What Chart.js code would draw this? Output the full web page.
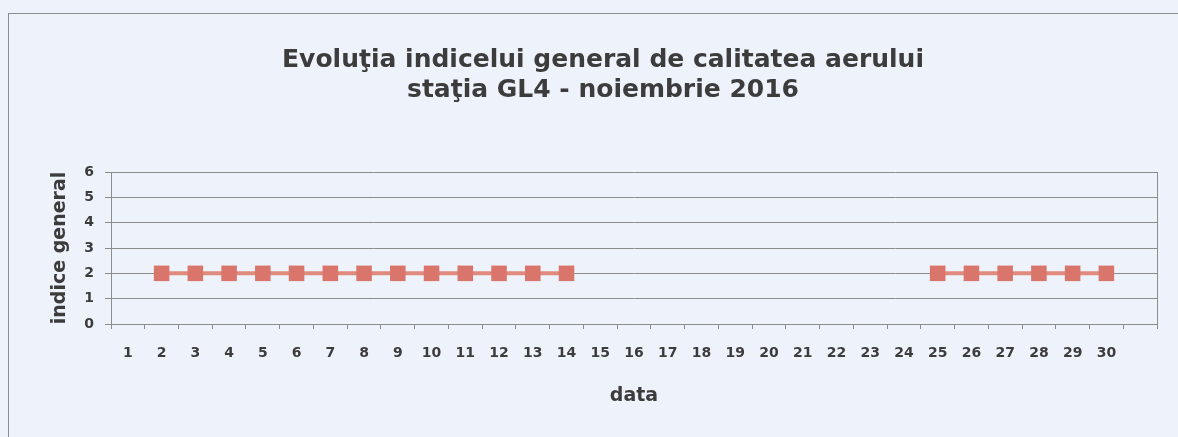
<!DOCTYPE html>
<html>
<head>
<meta charset="utf-8">
<script src="https://cdn.jsdelivr.net/npm/chart.js@4"></script>
<style>
  html, body { margin: 0; padding: 0; background: #eef3fb; overflow: hidden; }
  #frame { position: absolute; left: 8px; top: 13px; width: 1300px; height: 600px; border: 1px solid #8c8c8c; }
  #chart { position: absolute; left: 0; top: 0; }
</style>
</head>
<body>
<div id="frame"></div>
<canvas id="chart" width="1178" height="437"></canvas>
<script>
// zile din noiembrie + un slot gol la capat (ca in Excel)
const days = ['1', '2', '3', '4', '5', '6', '7', '8', '9', '10',
  '11', '12', '13', '14', '15', '16', '17', '18', '19', '20',
  '21', '22', '23', '24', '25', '26', '27', '28', '29', '30', ''];
const indiceGeneral = [null, 2, 2, 2, 2, 2, 2, 2, 2, 2,
  2, 2, 2, 2, null, null, null, null, null, null,
  null, null, null, null, 2, 2, 2, 2, 2, 2, null];
const yTicks = [0, 1, 2, 3, 4, 5, 6];

const textColor = '#3c3c3c';
const gridColor = '#8c8c8c';
const fontFamily = "'DejaVu Sans', Verdana, sans-serif";

const ctx = document.getElementById('chart').getContext('2d');
new Chart(ctx, {
  type: 'line',
  data: {
    labels: days,
    datasets: [{
      label: 'indice general',
      data: indiceGeneral,
      borderColor: '#e08a7e',
      backgroundColor: '#d9756a',
      borderWidth: 4,
      pointStyle: 'rect',
      pointRadius: 11,
      pointBorderWidth: 0,
      pointBackgroundColor: '#d9756a',
      spanGaps: false,
      tension: 0,
    }]
  },
  options: {
    responsive: false,
    animation: false,
    layout: { padding: { left: 49, right: 21, top: 0, bottom: 30 } },
    plugins: {
      legend: { display: false },
      tooltip: { enabled: false },
      title: {
        display: true,
        text: ['Evoluţia indicelui general de calitatea aerului', 'staţia GL4 - noiembrie 2016'],
        color: textColor,
        font: { family: fontFamily, size: 25, weight: 'bold', lineHeight: 1.2 },
        padding: { top: 45, bottom: 67 }
      }
    },
    scales: {
      x: {
        offset: true,
        grid: { offset: true, drawOnChartArea: false, drawTicks: true, tickLength: 5, color: gridColor },
        border: { display: true, color: gridColor },
        ticks: { color: textColor, font: { family: fontFamily, size: 14, weight: 'bold' }, padding: 16, autoSkip: false, maxRotation: 0 },
        title: { display: true, text: 'data', color: textColor, font: { family: fontFamily, size: 19, weight: 'bold' }, padding: 0 },
        afterFit: (scale) => { scale.height = 83; }
      },
      y: {
        min: 0,
        max: 6,
        afterBuildTicks: (scale) => { scale.ticks = yTicks.map(v => ({ value: v })); },
        grid: { color: gridColor, tickLength: 6 },
        border: { display: true, color: gridColor },
        ticks: { color: textColor, font: { family: fontFamily, size: 14, weight: 'bold' }, padding: 11 },
        title: { display: true, text: 'indice general', color: textColor, font: { family: fontFamily, size: 19, weight: 'bold' }, padding: 0 },
        afterFit: (scale) => { scale.width = 62; }
      },
      y2: {
        position: 'right',
        min: 0,
        max: 6,
        grid: { display: false },
        ticks: { display: false },
        border: { display: true, color: gridColor },
        afterFit: (scale) => { scale.width = 0; }
      }
    }
  }
});
</script>
</body>
</html>
